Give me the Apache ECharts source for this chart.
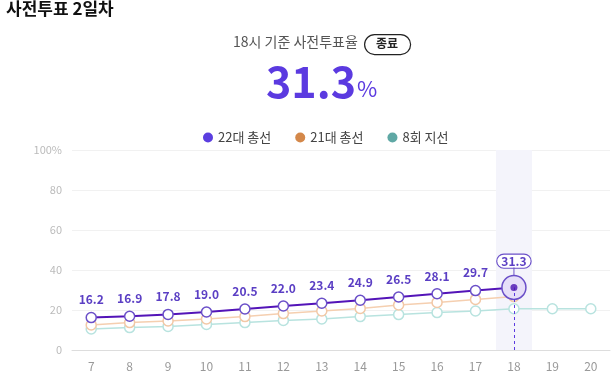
<!DOCTYPE html>
<html><head><meta charset="utf-8">
<script src="https://cdn.jsdelivr.net/npm/echarts@6/dist/echarts.min.js"></script>
<style>html,body{margin:0;padding:0;background:#fff}#c{width:613px;height:375px}</style>
</head><body><div id="c"></div>
<script>
const hours = ['7','8','9','10','11','12','13','14','15','16','17','18','19','20'];
const s22 = [16.2,16.9,17.8,19.0,20.5,22.0,23.4,24.9,26.5,28.1,29.7,31.3,null,null];
const s21 = [12.5,13.7,14.5,15.5,16.7,18.2,19.5,20.8,22.5,23.8,25.3,26.7,null,null];
const s8  = [10.5,11.2,11.8,12.8,13.7,14.8,15.5,16.7,17.7,18.7,19.5,20.6,20.6,20.6];
const yTicks = [0,20,40,60,80,100];
const names = ['22대 총선','21대 총선','8회 지선'];
const current = '31.3';
const currentIdx = 11;

const F = '"Noto Sans CJK KR","Noto Sans",sans-serif';
const chart = echarts.init(document.getElementById('c'));
const hi = s22.map((v,i)=> i===currentIdx ? 100 : null);
const cur = s22.map((v,i)=> i===currentIdx ? v : null);

chart.setOption({
  animation:false,
  textStyle:{fontFamily:F},
  graphic:[
    {type:'text', left:6, top:0, style:{text:'사전투표 2일차', font:'bold 17px '+F, fill:'#111'}},
    {type:'text', left:233, top:35, style:{text:'18시 기준 사전투표율', font:'14px '+F, fill:'#555'}},
    {type:'rect', left:364, top:34, shape:{width:46, height:20, r:10}, style:{fill:'#fff', stroke:'#222', lineWidth:1.2}},
    {type:'text', left:376, top:37, style:{text:'종료', font:'bold 12px '+F, fill:'#222'}},
    {type:'text', left:266, top:60, style:{rich:{a:{font:'bold 43px '+F, fill:'#5b3ae0'}, b:{font:'22px '+F, fill:'#5b3ae0', padding:[14,0,0,1]}}, text:'{a|'+current+'}{b|%}'}}
  ],
  legend:{
    top:126, left:198, icon:'circle', itemWidth:10, itemHeight:10, itemGap:24,
    textStyle:{color:'#444', fontSize:13, fontFamily:F},
    data:[
      {name:names[0], itemStyle:{color:'#5b3ee0', borderWidth:0}},
      {name:names[1], itemStyle:{color:'#d4884a', borderWidth:0}},
      {name:names[2], itemStyle:{color:'#5fa8a5', borderWidth:0}}
    ]
  },
  grid:{left:72, right:3, top:150, bottom:25},
  xAxis:{
    type:'category', data:hours, boundaryGap:true,
    axisLine:{lineStyle:{color:'#ddd'}}, axisTick:{show:false},
    axisLabel:{color:'#999', fontSize:12, margin:10}
  },
  yAxis:{
    type:'value', min:0, max:100, interval:20,
    axisLine:{show:false}, axisTick:{show:false},
    splitLine:{lineStyle:{color:'#f1f1f1'}},
    axisLabel:{color:'#bbb', fontSize:11, margin:10, formatter:v=> yTicks.includes(v) ? (v===100?'100%':String(v)) : ''}
  },
  series:[
    {type:'bar', data:hi, barWidth:36, barGap:'-100%', silent:true, itemStyle:{color:'#f4f4fb'}, z:0},
    {name:names[2], type:'line', data:s8, z:2, symbol:'circle', symbolSize:10,
     lineStyle:{color:'#b8e3df', width:1.5}, itemStyle:{color:'#fff', borderColor:'#b8e3df', borderWidth:1.5},
     markLine:{silent:true, symbol:'none', label:{show:false}, lineStyle:{color:'#5b3ae0', type:[3,3], width:1},
       data:[[{xAxis:currentIdx, yAxis:0},{xAxis:currentIdx, yAxis:s22[currentIdx]}]]}},
    {name:names[1], type:'line', data:s21, z:3, symbol:'circle', symbolSize:10,
     lineStyle:{color:'#f5cfb0', width:1.5}, itemStyle:{color:'#fff', borderColor:'#f2c8a6', borderWidth:1.5}},
    {name:names[0], type:'line', data:s22.map((v,i)=> i===currentIdx ? {value:v, symbolSize:24,
        itemStyle:{color:'#e6dff8', borderColor:'#6a4fc8', borderWidth:1.5},
        label:{show:true, position:'top', distance:7, color:'#5b3fc4', fontWeight:'bold', fontSize:12,
          backgroundColor:'#fff', borderColor:'#6a4fc8', borderWidth:1.2, borderRadius:7, padding:[1,4,0,4]}} : v),
     z:4, symbol:'circle', symbolSize:10,
     lineStyle:{color:'#5314b8', width:2}, itemStyle:{color:'#fff', borderColor:'#6a4fc8', borderWidth:1.5},
     label:{show:true, position:'top', distance:6, color:'#5b3fc4', fontWeight:'bold', fontSize:12, fontFamily:F,
       formatter:p=> p.value==null ? '' : Number(p.value).toFixed(1)}},
    {type:'scatter', data:cur, z:5, symbol:'circle', symbolSize:7, silent:true, itemStyle:{color:'#4a10b0'}},
    {type:'scatter', data:cur, z:5, symbol:'rect', symbolSize:[1.2,8], symbolOffset:[0,-16], silent:true, itemStyle:{color:'#6a4fc8'}}
  ]
});
</script></body></html>
